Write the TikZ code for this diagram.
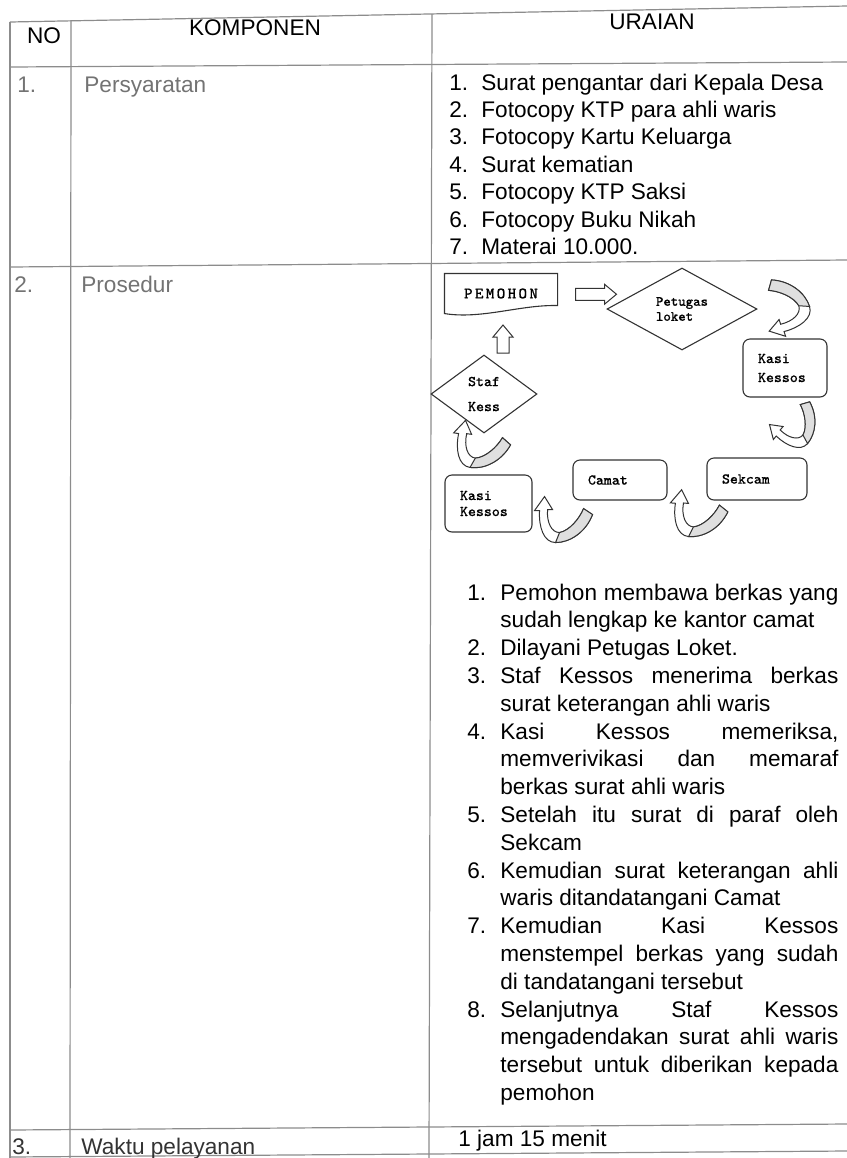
\documentclass[tikz,border=0pt]{standalone}
\usepackage{fontspec}
\setmainfont{Liberation Sans}
\newfontfamily\flowfont[FakeBold=0.8]{Latin Modern Mono}
\usetikzlibrary{positioning, calc, shapes.geometric}

\tikzset{
  grid/.style={black!45, line width=0.6pt},
  body/.style={inner sep=0pt, anchor=base west, font=\fontsize{11.3}{13.6}\selectfont},
  faint/.style={body, text=black!55},
  flow/.style={draw=black!80, line width=0.55pt, font=\flowfont\fontsize{7.5}{9}\selectfont},
  flowbox/.style={flow, rectangle, rounded corners=3.5pt, align=left, inner xsep=7.5pt, inner ysep=0pt},
  flowdia/.style={flow, diamond, inner sep=0pt, align=left},
  % curved u-turn arrow, grey back band on the right, head on the left
  pics/uturn/.style={code={
    \draw[black!80, fill=white, line width=0.5pt] (37,-28) .. controls (30,-10) and (14,0) .. (0,0)
      .. controls (-12,0) and (-17,-16) .. (-16,-32) -- (-21,-32) -- (-11,-46) -- (-3,-33) -- (-8,-33)
      .. controls (-9,-20) and (-4,-10) .. (4,-10) .. controls (14,-12) and (24,-24) .. (28,-34) -- cycle;
    \draw[black!80, fill=gray!25, line width=0.5pt] (37,-28) .. controls (30,-10) and (14,0) .. (0,0)
      -- (4,-10) .. controls (14,-12) and (24,-24) .. (28,-34) -- cycle;
  }},
  % straight block arrow pointing right, half length #1
  pics/blockarr/.style={code={
    \draw[black!80, fill=white, line width=0.5pt] (-#1,-6) -- (#1-12,-6) -- (#1-12,-10) -- (#1,0)
      -- (#1-12,10) -- (#1-12,6) -- (-#1,6) -- cycle;
  }},
}

\newcommand{\jline}[1]{\makebox[169pt][s]{#1}}

\begin{document}
\begin{tikzpicture}[x=0.5pt, y=-0.5pt]
        \useasboundingbox (0,0) rectangle (847,1158);

        % the table
        \draw[grid] (10,22) -- (847,6);
        \draw[grid] (10,67) -- (847,62);
        \draw[grid] (10,267) -- (847,260);
        \draw[grid] (10,1130) -- (847,1124);
        \draw[grid] (10,1157) -- (847,1151);
        \draw[grid] (10,22) -- (10,1158);
        \draw[grid] (71,21) -- (70,1158);
        \draw[grid] (432,14) -- (429,1158);

        % header
        \node[body, anchor=base] (hno) at (44,43) {NO};
        \node[body, anchor=base] (hkomp) at (255,35) {KOMPONEN};
        \node[body, anchor=base] (hurai) at (652,29) {URAIAN};

        % row 1
        \node[faint] (no1) at (17,92) {1.};
        \node[faint] (komp1) at (84,92) {Persyaratan};
        \foreach \t [count=\i] in {Surat pengantar dari Kepala Desa, Fotocopy KTP para ahli waris,
            Fotocopy Kartu Keluarga, Surat kematian, Fotocopy KTP Saksi, Fotocopy Buku Nikah,
            Materai 10.000.} {
          \node[body] (reqn\i) at (449,62.6+27.4*\i) {\i.};
          \node[body] (req\i) at (481,62.6+27.4*\i) {\t};
        }

        % row 2
        \node[faint] (no2) at (14,292) {2.};
        \node[faint] (komp2) at (81,292) {Prosedur};

        % flow of the procedure
        \node[flow, draw=none, minimum width=56pt, minimum height=19.5pt,
              font=\flowfont\fontsize{8}{9}\selectfont] (pemohon) at (501,293.5)
              {\addfontfeature{LetterSpace=15}PEMOHON};
        \draw[flow] (pemohon.north west) -- (pemohon.north east) -- ($(pemohon.south east)+(0,-8)$)
              .. controls ($(pemohon.south east)+(-37,-9)$) and ($(pemohon.south west)+(37,6)$) .. (pemohon.south west)
              -- cycle;
        \node[flowdia, minimum width=75pt, minimum height=41pt, font=\flowfont\fontsize{7}{7.5}\selectfont]
              (loket) at (682,309) {Petugas\\loket};
        \node[flowbox, text width=27pt, minimum height=29pt, font=\flowfont\fontsize{7.5}{9.5}\selectfont]
              (kasi1) at (785,368) {Kasi\\Kessos};
        \node[flowdia, minimum width=53pt, minimum height=39pt, font=\flowfont\fontsize{7.5}{12.5}\selectfont]
              (staf) at (484,394) {Staf\\Kess};
        \node[flowbox, text width=35pt, minimum height=21pt] (sekcam) at (757,479) {Sekcam};
        \node[flowbox, text width=32pt, minimum height=20pt] (camat) at (620,480) {Camat};
        \node[flowbox, text width=28.5pt, minimum height=28.5pt, font=\flowfont\fontsize{7.5}{8}\selectfont]
              (kasi2) at (488.5,503.5) {Kasi\\Kessos};

        \pic at ($(pemohon.east)!.5!(loket.west)+(14,-7)$) {blockarr=20.5};
        \pic[rotate=90] at ($(pemohon.south)!.5!(staf.north)+(10.5,5)$) {blockarr=14};
        \pic[rotate=108] at ($(kasi1.north east)+(-18,-32)$) {uturn};
        \pic[rotate=50, scale=0.9] at ($(kasi1.south east)+(-20,46)$) {uturn};
        \pic[rotate=-5] at ($(camat.south east)+(21,36)$) {uturn};
        \pic at ($(kasi2.south east)+(23,10)$) {uturn};
        \pic[rotate=-8] at ($(kasi2.north)+(-18.5,-7)$) {uturn};

        % steps of the procedure
        \foreach \t [count=\k] in {\jline{Pemohon membawa berkas yang}, sudah lengkap ke kantor camat,
            Dilayani Petugas Loket., \jline{Staf Kessos menerima berkas}, surat keterangan ahli waris,
            {\jline{Kasi Kessos memeriksa,}}, \jline{memverivikasi dan memaraf}, berkas surat ahli waris,
            \jline{Setelah itu surat di paraf oleh}, Sekcam,
            \jline{Kemudian surat keterangan ahli}, waris ditandatangani Camat,
            \jline{Kemudian Kasi Kessos}, \jline{menstempel berkas yang sudah}, di tandatangani tersebut,
            \jline{Selanjutnya Staf Kessos}, \jline{mengadendakan surat ahli waris},
            \jline{tersebut untuk diberikan kepada}, pemohon} {
          \node[body] (step\k) at (500,572.2+27.8*\k) {\t};
        }
        \foreach \n/\k in {1/1, 2/3, 3/4, 4/6, 5/9, 6/11, 7/13, 8/16} {
          \node[body] (stepn\n) at (467,572.2+27.8*\k) {\n.};
        }

        % row 3
        \node[body, text=black!80] (no3) at (12,1154) {3.};
        \node[body, text=black!80] (komp3) at (81,1154) {Waktu pelayanan};
        \node[body] (time) at (458,1146) {1 jam 15 menit};
    \end{tikzpicture}
\end{document}
